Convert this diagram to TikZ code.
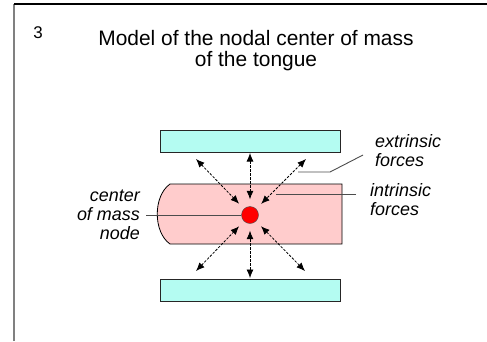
\documentclass[tikz,border=0pt]{standalone}
\usepackage{fontspec}
\setmainfont{Liberation Sans}
\usetikzlibrary{arrows.meta, calc, positioning}
\definecolor{plateblue}{HTML}{B4FCF2}
\definecolor{tonguepink}{HTML}{FFCCCC}

\begin{document}
\begin{tikzpicture}[
    x=1bp, y=-1bp,
    plate/.style={draw=black!85, line width=0.9bp, fill=plateblue,
                  minimum width=180bp, minimum height=22bp, inner sep=0pt},
    mass/.style={circle, draw=black!70, fill=red, minimum size=17bp, inner sep=0pt},
    lbl/.style={font=\fontsize{18}{19}\selectfont\itshape, inner sep=0pt},
    force/.style={{Latex[length=8.5bp,width=7bp]}-{Latex[length=8.5bp,width=7bp]},
                  dash pattern=on 2.5bp off 1.5bp, line width=0.8bp, shorten >=7bp},
    leader/.style={draw=black!70, line width=0.9bp},
]
\useasboundingbox (0,0) rectangle (487,341);
\draw[gray, line width=1.5bp] (14,341) -- (14,4);
\draw[line width=1.3bp] (14,4) -- (487,4);

\node[font=\fontsize{17}{19}\selectfont, inner sep=0pt] (num) at (38,33) {3};
\node[font=\fontsize{21}{20.5}\selectfont, align=center, inner sep=0pt] (title) at (256,50.5)
    {Model of the nodal center of mass\\of the tongue};

\draw[fill=tonguepink, line width=0.8bp] (342,184) -- (170,184)
    .. controls (153,196) and (153,232) .. (170,244) -- (342,244) -- cycle;
\node[plate] (upper) at (250,141) {};
\node[plate] (lower) at (250,290) {};

\coordinate (tl) at (196,159);
\coordinate (tm) at (250,153);
\coordinate (tr) at (306,159);
\coordinate (bl) at (196,271);
\coordinate (bm) at (250,278);
\coordinate (br) at (305,271);
\node[mass] (com) at (250,215) {};
\foreach \p in {tl,tm,tr,bl,bm,br}
    \draw[force] (\p) -- (com);

\node[lbl, align=left, anchor=west] (extr) at (375,151) {extrinsic\\forces};
\node[lbl, align=left, anchor=west] (intr) at (370,200) {intrinsic\\forces};
\node[lbl, align=right, anchor=east] (cent) at (140,215) {center\\of mass\\node};

\coordinate (ebend) at (330,172);
\draw[leader] ([xshift=-12bp,yshift=-4bp]extr.west) -- (ebend) -- ++(-32,0);
\draw[leader] ([xshift=-14bp,yshift=6bp]intr.west) -- ++(-80,0);
\draw[leader] ([xshift=6bp]cent.east) -- (com);
\end{tikzpicture}
\end{document}
